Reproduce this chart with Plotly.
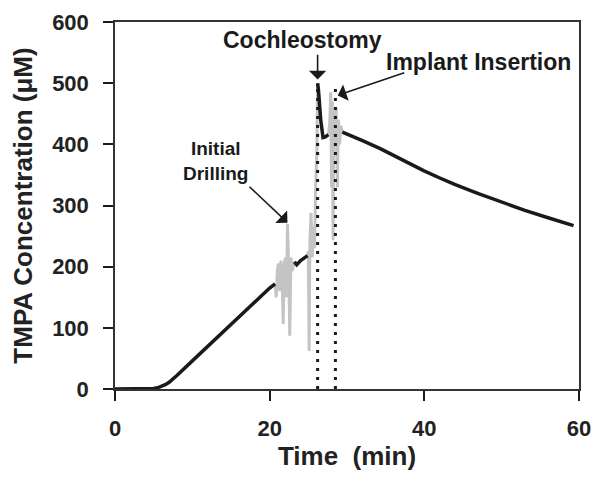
import plotly.graph_objects as go

# Black (continuous) TMPA concentration segments
pre_x = [0, 2, 4, 5, 5.5, 6, 6.5, 7, 7.5, 8, 10, 12, 14, 16, 18, 20, 20.7]
pre_y = [0, 0, 0, 1, 2, 4, 7, 11, 16, 22, 46, 70, 94, 118, 142, 165, 172]

mid_x = [23.2, 23.5, 24.0, 24.5, 24.9]
mid_y = [208, 203, 210, 214, 218]

coch_x = [26.2, 26.3, 26.6, 26.9, 27.2, 27.6]
coch_y = [500, 490, 440, 411, 412, 416]

post_x = [29.4, 30, 32, 34.3, 36, 38, 39.9, 42, 44, 46.9, 50, 53, 56, 59.3]
post_y = [420, 417, 406, 393, 382, 369, 357, 345, 334, 320, 305, 292, 280, 267]

# Grey (noisy) segments
drill_x = [20.7, 20.85, 21.0, 21.15, 21.3, 21.45, 21.6, 21.75, 21.9, 22.05, 22.2, 22.3, 22.45, 22.6, 22.75, 22.9, 23.05, 23.2]
drill_y = [172, 150, 195, 205, 160, 210, 190, 106, 205, 215, 150, 270, 205, 87, 215, 193, 200, 208]

gap_x = [24.9, 25.0, 25.1, 25.2, 25.35, 25.5, 25.65, 25.8, 25.95, 26.1, 26.2]
gap_y = [218, 225, 62, 240, 288, 215, 265, 230, 330, 390, 500]

impl_x = [27.6, 27.75, 27.9, 28.0, 28.1, 28.2, 28.3, 28.45, 28.6, 28.75, 28.9, 29.05, 29.2, 29.4]
impl_y = [416, 430, 485, 330, 470, 243, 455, 420, 460, 330, 440, 400, 430, 420]

# Event markers (dotted verticals)
event_x = [26.2, 28.5]
event_top = 500

x_ticks = [0, 20, 40, 60]
y_ticks = [0, 100, 200, 300, 400, 500, 600]

BLACK = "#1a1a1a"
GREY = "#c4c4c4"
FONT = "Liberation Sans, Arial, sans-serif"

fig = go.Figure()

for gx, gy in [(drill_x, drill_y), (gap_x, gap_y), (impl_x, impl_y)]:
    fig.add_trace(go.Scatter(x=gx, y=gy, mode="lines",
                             line=dict(color=GREY, width=3),
                             showlegend=False))

for ex in event_x:
    fig.add_trace(go.Scatter(x=[ex, ex], y=[0, event_top], mode="lines",
                             line=dict(color=BLACK, width=3, dash="3px,6px"),
                             showlegend=False, hoverinfo="skip"))

for bx, by in [(pre_x, pre_y), (mid_x, mid_y), (coch_x, coch_y), (post_x, post_y)]:
    fig.add_trace(go.Scatter(x=bx, y=by, mode="lines",
                             line=dict(color=BLACK, width=3.5),
                             showlegend=False))

ann_font = dict(family=FONT, size=23, color=BLACK, weight="bold")

arrow_style = dict(text="", showarrow=True, arrowhead=1, arrowsize=1.8,
                   arrowwidth=1.6, arrowcolor=BLACK, axref="x", ayref="y",
                   xref="x", yref="y")

annotations = [
    dict(x=24.2, y=570, text="Cochleostomy", showarrow=False, font=ann_font),
    dict(x=47.0, y=534, text="Implant Insertion", showarrow=False, font=ann_font),
    dict(x=13.0, y=372, text="Initial<br>Drilling", showarrow=False,
         font=dict(family=FONT, size=19, color=BLACK, weight="bold")),
    dict(x=26.2, y=506, ax=26.2, ay=549, **arrow_style),
    dict(x=28.8, y=480, ax=37.6, ay=518, **arrow_style),
    dict(x=22.3, y=272, ax=17.2, ay=333, **arrow_style),
]

tick_font = dict(family=FONT, size=22, color="#222222", weight="bold")
title_font = dict(family=FONT, size=26, color="#222222", weight="bold")

# page body has an 8px offset, so the figure is sized/placed to compensate
fig.update_layout(
    width=592, height=473,
    margin=dict(l=107, r=21, t=14, b=92),
    paper_bgcolor="white", plot_bgcolor="white",
    annotations=annotations,
    xaxis=dict(range=[0, 60], tickvals=x_ticks, ticks="outside", ticklen=10,
               tickwidth=1.5, tickcolor=BLACK, showgrid=False, zeroline=False,
               showline=True, linecolor="#333333", linewidth=1.5, mirror=True,
               tickfont=tick_font, ticklabelstandoff=9,
               title=dict(text="Time\u00a0\u00a0(min)", font=title_font, standoff=3),
               automargin=False),
    yaxis=dict(range=[0, 600], tickvals=y_ticks, ticks="outside", ticklen=10,
               tickwidth=1.5, tickcolor=BLACK, showgrid=False, zeroline=False,
               showline=True, linecolor="#333333", linewidth=1.5, mirror=True,
               tickfont=tick_font, ticklabelstandoff=10,
               title=dict(text="TMPA Concentration (μM)", font=title_font, standoff=12),
               automargin=False),
)

fig.write_html("out.html")
